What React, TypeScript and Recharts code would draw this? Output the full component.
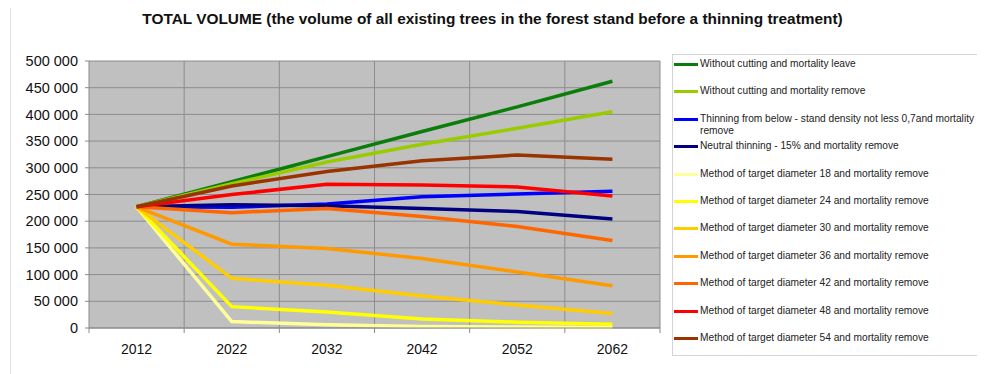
import {
  LineChart,
  Line,
  XAxis,
  YAxis,
  CartesianGrid,
  Legend,
} from "recharts";

const years = ["2012", "2022", "2032", "2042", "2052", "2062"];

// standing volume per treatment variant
const noCutLeave = [227000, 274000, 321000, 368000, 414000, 462000];
const noCutRemove = [227000, 270000, 311000, 344000, 374000, 405000];
const thinFromBelow = [227000, 226000, 232000, 246000, 251000, 256000];
const neutralThinning = [227000, 231000, 229000, 224000, 218000, 204000];
const target18 = [227000, 12000, 6000, 3000, 2000, 1000];
const target24 = [227000, 40000, 30000, 17000, 11000, 7000];
const target30 = [227000, 93000, 80000, 60000, 43000, 27000];
const target36 = [227000, 157000, 149000, 130000, 105000, 79000];
const target42 = [227000, 216000, 224000, 209000, 190000, 164000];
const target48 = [227000, 250000, 269000, 268000, 264000, 247000];
const target54 = [227000, 266000, 293000, 313000, 324000, 316000];

const yTicks = [0, 50000, 100000, 150000, 200000, 250000, 300000, 350000, 400000, 450000, 500000];

const series = [
  { key: "noCutLeave", name: "Without cutting and mortality leave", values: noCutLeave, color: "#0a7d0a" },
  { key: "noCutRemove", name: "Without cutting and mortality remove", values: noCutRemove, color: "#99cc00" },
  { key: "thinFromBelow", name: "Thinning from below - stand density not less 0,7and mortality remove", values: thinFromBelow, color: "#0000ff" },
  { key: "neutralThinning", name: "Neutral thinning - 15% and mortality remove", values: neutralThinning, color: "#000080" },
  { key: "target18", name: "Method of target diameter 18 and mortality remove", values: target18, color: "#ffff99" },
  { key: "target24", name: "Method of target diameter 24 and mortality remove", values: target24, color: "#ffff00" },
  { key: "target30", name: "Method of target diameter 30 and mortality remove", values: target30, color: "#ffcc00" },
  { key: "target36", name: "Method of target diameter 36 and mortality remove", values: target36, color: "#ff9900" },
  { key: "target42", name: "Method of target diameter 42 and mortality remove", values: target42, color: "#ff6600" },
  { key: "target48", name: "Method of target diameter 48 and mortality remove", values: target48, color: "#ff0000" },
  { key: "target54", name: "Method of target diameter 54 and mortality remove", values: target54, color: "#993300" },
];

const data = years.map((year, i) => {
  const row: any = { year };
  series.forEach((s) => {
    row[s.key] = s.values[i];
  });
  return row;
});

const FONT = '"Liberation Sans", Arial, sans-serif';
const W = 977;
const H = 366;
const Y_AXIS_W = 81;
const X_AXIS_H = 46;
const margin = { top: 53, right: 325, bottom: 0, left: 0 };
const plotW = W - Y_AXIS_W - margin.right;
const band = plotW / years.length;

const fmtThousands = (v: number) => String(v).replace(/\B(?=(\d{3})+(?!\d))/g, " ");

// category labels in the middle, tick marks on the category borders
const YearTick = (props: any) => {
  const { x, y, payload, index } = props;
  return (
    <g>
      <line x1={x - band / 2} x2={x - band / 2} y1={y} y2={y + 5} stroke="#8a8a8a" />
      {index === years.length - 1 && (
        <line x1={x + band / 2} x2={x + band / 2} y1={y} y2={y + 5} stroke="#8a8a8a" />
      )}
      <text x={x} y={y + 26} textAnchor="middle" fontSize={14} fontFamily={FONT} fill="#111">
        {payload.value}
      </text>
    </g>
  );
};

const order = (p: any) => series.findIndex((s) => s.name === p.value);

const LegendBox = ({ payload }: any) => (
  <div
    style={{
      boxSizing: "border-box",
      width: 310,
      height: 302,
      border: "1px solid #d4d4d4",
      background: "#fff",
      paddingTop: 2,
      fontFamily: FONT,
      fontSize: 10.2,
      color: "#222",
    }}
  >
    {[...(payload || [])]
      .sort((a: any, b: any) => order(a) - order(b))
      .map((p: any) => (
        <div key={p.value} style={{ position: "relative", height: 27.4 }}>
          <div
            style={{
              position: "absolute",
              left: 1,
              top: 6,
              width: 24,
              height: 3,
              background: p.color,
            }}
          />
          <div style={{ position: "absolute", left: 27, top: 1, width: 276, lineHeight: "12px" }}>
            {p.value}
          </div>
        </div>
      ))}
  </div>
);

const App = () => {
  return (
    <div style={{ position: "relative", width: W, height: H, background: "#fff" }}>
      <div style={{ position: "absolute", left: 2, top: 0, width: 1, height: H, background: "#e2e2e2" }} />
      <div
        style={{
          position: "absolute",
          left: 0,
          top: 3,
          width: W - 8,
          textAlign: "center",
          fontFamily: FONT,
          fontWeight: "bold",
          fontSize: 15.4,
          lineHeight: "15.4px",
          color: "#111",
        }}
      >
        TOTAL VOLUME (the volume of all existing trees in the forest stand before a thinning treatment)
      </div>
      <LineChart width={W} height={H} data={data} margin={margin}>
        <CartesianGrid
          fill="#c0c0c0"
          stroke="#8c8c8c"
          verticalCoordinatesGenerator={({ offset }: any) =>
            years.map((_, i) => offset.left + ((i + 1) * offset.width) / years.length)
          }
        />
        <XAxis
          dataKey="year"
          height={X_AXIS_H}
          padding={{ left: band / 2, right: band / 2 }}
          tickLine={false}
          tickSize={0}
          tickMargin={0}
          axisLine={{ stroke: "#8a8a8a" }}
          tick={<YearTick />}
          interval={0}
        />
        <YAxis
          domain={[0, 500000]}
          ticks={yTicks}
          interval={0}
          tickFormatter={fmtThousands}
          tickSize={4}
          tickMargin={7}
          tickLine={{ stroke: "#8a8a8a" }}
          axisLine={{ stroke: "#8a8a8a" }}
          tick={{ fontSize: 14.5, fontFamily: FONT, fill: "#111" }}
          width={Y_AXIS_W}
        />
        <Legend
          layout="vertical"
          align="center"
          verticalAlign="middle"
          wrapperStyle={{ left: 664, top: 46, width: 310, height: 302 }}
          content={<LegendBox />}
        />
        {series.map((s) => (
          <Line
            key={s.key}
            type="linear"
            dataKey={s.key}
            name={s.name}
            stroke={s.color}
            strokeWidth={3.5}
            dot={false}
            activeDot={false}
            isAnimationActive={false}
          />
        ))}
      </LineChart>
    </div>
  );
};

export default App;
